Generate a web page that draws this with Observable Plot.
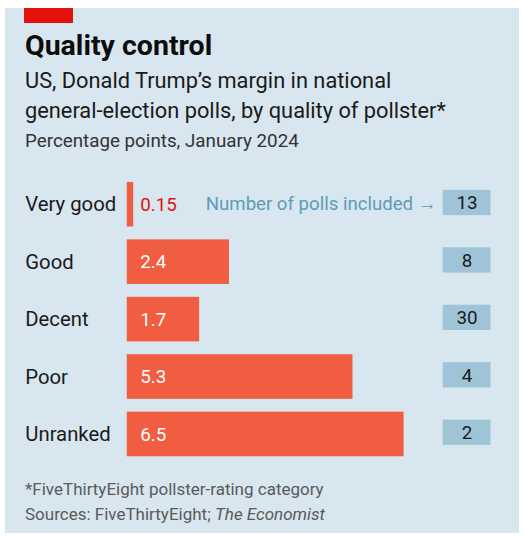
<!DOCTYPE html>
<html><head><meta charset="utf-8">
<script src="https://cdn.jsdelivr.net/npm/d3@7"></script>
<script src="https://cdn.jsdelivr.net/npm/@observablehq/plot@0.6"></script>
<style>
html,body{margin:0;padding:0;background:#fff;}
#panel{position:absolute;left:5px;top:8px;width:514px;height:525px;background:#d7e6ef;font-family:Roboto,sans-serif;}
#redtab{position:absolute;left:19px;top:0;width:49px;height:15px;background:#e3120b;}
#title{position:absolute;left:20px;top:21px;font-size:28.5px;font-weight:700;color:#0d0d0d;white-space:nowrap;}
#sub{position:absolute;left:20px;top:58px;font-size:21.8px;line-height:30px;color:#1a1a1a;white-space:nowrap;}
#unit{position:absolute;left:20px;top:122px;font-size:18.8px;color:#333;white-space:nowrap;}
#chart{position:absolute;left:-5px;top:166px;}
#foot{position:absolute;left:20px;top:469px;font-size:17px;line-height:25px;color:#5a5a5a;white-space:nowrap;}
</style></head>
<body>
<div id="panel">
<div id="redtab"></div>
<div id="title">Quality control</div>
<div id="sub">US, Donald Trump’s margin in national<br>general-election polls, by quality of pollster*</div>
<div id="unit">Percentage points, January 2024</div>
<div id="chart"></div>
<div id="foot">*FiveThirtyEight pollster-rating category<br>Sources: FiveThirtyEight; <i>The Economist</i></div>
</div>
<script>
const categories = ["Very good", "Good", "Decent", "Poor", "Unranked"];
const margins = [0.15, 2.4, 1.7, 5.3, 6.5];
const valueLabels = ["0.15", "2.4", "1.7", "5.3", "6.5"];
const polls = [13, 8, 30, 4, 2];
const countNote = "Number of polls included →";

const data = categories.map((c, i) => ({cat: c, v: margins[i], lab: valueLabels[i], n: polls[i]}));

const boxX1 = 7.42, boxX2 = 8.54;

const chart = Plot.plot({
  width: 524,
  height: 294,
  marginLeft: 128,
  marginRight: 0,
  marginTop: 0,
  marginBottom: 0,
  style: {background: "transparent", fontFamily: "Roboto, sans-serif"},
  x: {domain: [0, 9.21], axis: null},
  y: {domain: categories, paddingInner: 0.22, paddingOuter: 0.11, axis: null},
  marks: [
    Plot.barX(data, {y: "cat", x: "v", fill: "#f15d40"}),
    Plot.text(data, {y: "cat", x: 0, text: "lab", dx: 13, textAnchor: "start",
      fill: d => d.v < 0.5 ? "#e3120b" : "#ffffff", fontSize: 19}),
    Plot.text(data, {y: "cat", text: "cat", frameAnchor: "left", dx: -103, textAnchor: "start",
      fill: "#1a1a1a", fontSize: 20.5}),
    Plot.barX(data, {y: "cat", x1: () => boxX1, x2: () => boxX2, fill: "#9fc4d7", insetTop: 8, insetBottom: 11.5}),
    Plot.text(data, {y: "cat", x: () => (boxX1 + boxX2) / 2, dy: -1.5, text: "n", fill: "#1a1a1a", fontSize: 19}),
    Plot.text(data.slice(0, 1), {y: "cat", x: () => boxX1, dx: -7, dy: -1, text: () => countNote,
      textAnchor: "end", fill: "#5e9bbb", fontSize: 18.8})
  ]
});
document.getElementById("chart").appendChild(chart);
</script>
</body></html>
